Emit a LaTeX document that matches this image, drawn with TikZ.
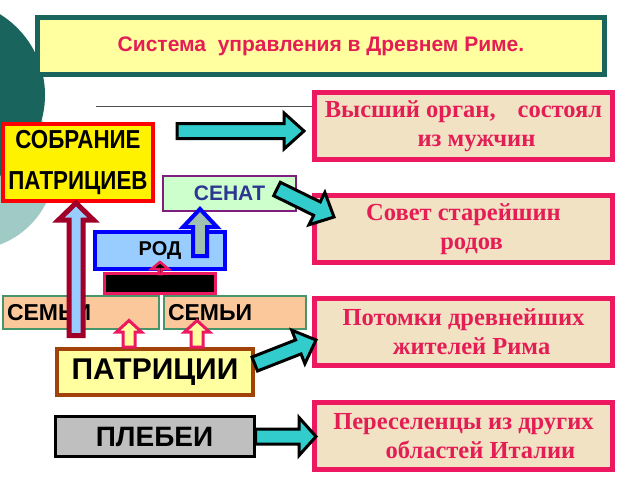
\documentclass[tikz,border=0pt]{standalone}
\usepackage{fontspec}
\setmainfont{Liberation Serif}
\newfontfamily\arialf{Liberation Sans}
\newfontfamily\narrowf[FakeStretch=0.86]{Liberation Sans}
\usetikzlibrary{calc}

\definecolor{darkteal}{RGB}{25,100,92}
\definecolor{paleteal}{RGB}{160,202,198}
\definecolor{titlebg}{RGB}{255,255,160}
\definecolor{crimson}{RGB}{228,30,85}
\definecolor{rimpink}{RGB}{236,24,96}
\definecolor{wood}{RGB}{242,226,196}
\definecolor{arrteal}{RGB}{51,204,204}
\definecolor{peach}{RGB}{250,200,155}
\definecolor{famgreen}{RGB}{70,150,105}
\definecolor{senatbg}{RGB}{204,255,204}
\definecolor{senatrim}{RGB}{128,30,128}
\definecolor{senattxt}{RGB}{45,55,145}
\definecolor{rodbg}{RGB}{153,204,255}
\definecolor{brownrim}{RGB}{160,66,10}
\definecolor{darkred}{RGB}{160,0,40}
\definecolor{greygreen}{RGB}{160,192,178}

% block arrow: style, tail, tip, shaft half width, head half width, head length
\newcommand\blockarrow[6]{%
  \coordinate (ba-h) at ($(#3)!#6!(#2)$);
  \filldraw[#1] ($(#2)!#4!90:(#3)$) -- ($(ba-h)!#4!90:(#3)$) -- ($(ba-h)!#5!90:(#3)$) -- (#3)
    -- ($(ba-h)!#5!-90:(#3)$) -- ($(ba-h)!#4!-90:(#3)$) -- ($(#2)!#4!-90:(#3)$) -- cycle;
}

\tikzset{
  titlebox/.style={draw=darkteal, line width=5pt, fill=titlebg, minimum width=567pt, minimum height=57pt,
    text=crimson, font=\arialf\bfseries\fontsize{21}{25}\selectfont},
  outbox/.style={draw=rimpink, line width=4.5pt, fill=wood, minimum width=298pt, minimum height=67pt,
    inner sep=0pt, align=center, text=crimson, font=\bfseries\fontsize{24.5}{29}\selectfont},
  family/.style={draw=famgreen, line width=2pt, fill=peach, minimum height=33pt, inner xsep=4pt,
    inner ysep=0pt, align=left, font=\arialf\bfseries\fontsize{23}{27}\selectfont},
  tealarrow/.style={fill=arrteal, draw=black, line width=3pt},
  pinkarrow/.style={fill=titlebg, draw=rimpink, line width=3pt}
}

\begin{document}
\begin{tikzpicture}[x=1pt, y=-1pt, line join=miter]
    \useasboundingbox (0,0) rectangle (640,480);
    \begin{scope}
        \clip (0,0) rectangle (640,480);
        \fill [paleteal] (-30,165) circle (85pt);
        \fill [darkteal] (-50,95) circle (95pt);
    \end{scope}

    \node [titlebox] (title) at (321,46) {Система~~управления в Древнем Риме.};

    \node [outbox] (out1) at (463.5,126) {Высший орган,\hspace{22pt}состоял\\\hspace*{26pt}из мужчин};
    \node [outbox] (out2) at (463.5,229) {Совет старейшин\\\hspace*{16pt}родов};
    \node [outbox] (out3) at (463.5,332) {Потомки древнейших\\\hspace*{16pt}жителей Рима};
    \node [outbox] (out4) at (463.5,436) {Переселенцы из других\\\hspace*{34pt}областей Италии};

    \coordinate (rulestart) at (96,106);
    \draw [black!70, line width=1pt] (rulestart) -- (rulestart -| out1.west);

    \node [draw=red, line width=4pt, fill=yellow, minimum width=150pt, minimum height=77pt, inner sep=0pt,
        align=center, font=\narrowf\bfseries\fontsize{26}{41}\selectfont] (sobr) at (78,162.5) {СОБРАНИЕ\\ПАТРИЦИЕВ};
    \node [draw=senatrim, line width=2.5pt, fill=senatbg, minimum width=133pt, minimum height=35pt, text=senattxt,
        font=\arialf\bfseries\fontsize{21}{25}\selectfont] (senat) at (229.5,193.5) {СЕНАТ};
    \node [draw=blue, line width=4pt, fill=rodbg, minimum width=130pt, minimum height=37pt,
        font=\arialf\bfseries\fontsize{20}{24}\selectfont] (rod) at (160,250.5) {РОД};
    \node [draw=rimpink, line width=3pt, fill=black, minimum width=111pt, minimum height=20pt] (bar) at (160,283.5) {};
    \node [family, text width=148pt] (fam1) at (81,312.5) {СЕМЬИ};
    \node [family, text width=134pt] (fam2) at (235,312.5) {СЕМЬИ};
    \node [draw=brownrim, line width=3.5pt, fill=titlebg, minimum width=196pt, minimum height=46pt,
        font=\arialf\bfseries\fontsize{30}{34}\selectfont] (patr) at (155,372) {ПАТРИЦИИ};
    \node [draw=black, line width=3pt, fill=black!25, minimum width=199pt, minimum height=40pt,
        font=\arialf\bfseries\fontsize{28}{32}\selectfont] (plebs) at (154.5,436.5) {ПЛЕБЕИ};

    \coordinate (a1) at (177,131);
    \coordinate (a2) at (304,131);
    \coordinate (b1) at (277,189);
    \coordinate (b2) at (334,217);
    \coordinate (c1) at ($(patr.east)+(0,-8)$);
    \coordinate (c2) at (316,340);
    \coordinate (d2) at (316,436.5);
    \coordinate (e1) at (76,335.5);
    \coordinate (e2) at ($(sobr.south)+(-2,0)$);
    \coordinate (f1) at (200,256);
    \coordinate (f2) at (200,209);
    \coordinate (g1) at (160,274);
    \coordinate (g2) at (160,262);
    \coordinate (h1) at (129,347);
    \coordinate (h2) at (129,320.5);
    \coordinate (k1) at (197,347);
    \coordinate (k2) at (197,320.5);

    \blockarrow{tealarrow}{a1}{a2}{7.5pt}{18pt}{20pt}
    \blockarrow{tealarrow}{b1}{b2}{7.5pt}{18pt}{19pt}
    \blockarrow{tealarrow}{c1}{c2}{7.5pt}{18pt}{19pt}
    \blockarrow{tealarrow}{plebs.east}{d2}{7.5pt}{19pt}{17pt}
    \blockarrow{fill=rodbg, draw=darkred, line width=5pt}{e1}{e2}{7pt}{17.5pt}{17pt}
    \blockarrow{fill=greygreen, draw=blue, line width=4pt}{f1}{f2}{7pt}{17pt}{18pt}
    \blockarrow{fill=black, draw=rimpink, line width=2.5pt}{g1}{g2}{1.5pt}{8.5pt}{7pt}
    \blockarrow{pinkarrow}{h1}{h2}{6pt}{12.5pt}{11.5pt}
    \blockarrow{pinkarrow}{k1}{k2}{6pt}{12.5pt}{11.5pt}
\end{tikzpicture}
\end{document}
